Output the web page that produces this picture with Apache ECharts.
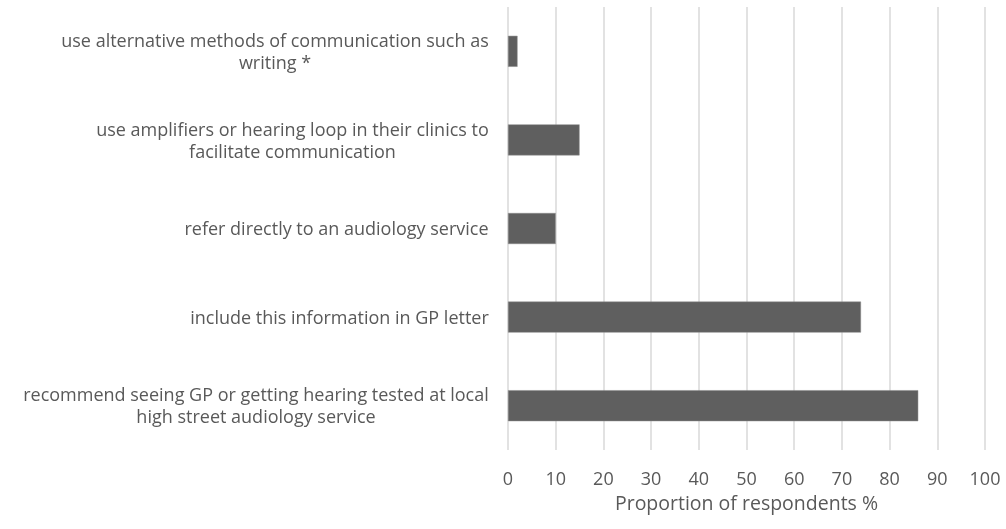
<!DOCTYPE html>
<html>
<head>
<meta charset="utf-8">
<script src="https://cdn.jsdelivr.net/npm/echarts@6/dist/echarts.min.js"></script>
<style>
  html, body { margin: 0; padding: 0; background: #fff; }
  #divChart { width: 1006px; height: 529px; }
</style>
</head>
<body>
<div id="divChart"></div>
<script>
// categories, top to bottom (each line of a label is one string)
var categories = [
    ['use alternative methods of communication such as', 'writing *'],
    ['use amplifiers or hearing loop in their clinics to', 'facilitate communication'],
    ['refer directly to an audiology service'],
    ['include this information in GP letter'],
    ['recommend seeing GP or getting hearing tested at local', 'high street audiology service']
];
var values = [2, 15, 10, 74, 86];
var xTicks = [0, 10, 20, 30, 40, 50, 60, 70, 80, 90, 100];
var xName = 'Proportion of respondents %';

var fontName = 'Open Sans';
var labelSize = 18;

// width of the longest line, so wrapped lines are centred in their block
var ctx = document.createElement('canvas').getContext('2d');
ctx.font = labelSize + 'px "' + fontName + '"';
var rich = {};
categories.forEach(function (lines, i) {
    var w = 0;
    lines.forEach(function (l) {
        w = Math.max(w, ctx.measureText(l).width);
    });
    rich['s' + i] = {
        width: Math.ceil(w),
        align: 'center',
        fontFamily: fontName,
        fontSize: labelSize,
        lineHeight: 22,
        color: '#595959'
    };
});

var myChart = echarts.init(document.getElementById('divChart'));

var option = {
    animation: false,
    grid: {
        left: 508,
        right: 21,
        top: 7,
        bottom: 79
    },
    xAxis: {
        type: 'value',
        min: xTicks[0],
        max: xTicks[xTicks.length - 1],
        interval: 10,
        name: xName,
        nameLocation: 'middle',
        nameGap: 44,
        nameTextStyle: {
            fontFamily: fontName,
            fontSize: 19.5,
            color: '#595959'
        },
        axisLine: { show: false },
        axisTick: { show: false },
        axisLabel: {
            margin: 21,
            fontFamily: fontName,
            fontSize: 18,
            color: '#595959'
        },
        splitLine: {
            lineStyle: { color: '#d9d9d9', width: 1.5 }
        }
    },
    yAxis: {
        type: 'category',
        inverse: true,
        data: categories.map(function (c) { return c.join('\n'); }),
        axisLine: { show: false },
        axisTick: { show: false },
        axisLabel: {
            margin: 19,
            padding: [3, 0, 0, 0],
            formatter: function (value, idx) {
                return categories[idx].map(function (l) {
                    return '{s' + idx + '|' + l + '}';
                }).join('\n');
            },
            rich: rich
        }
    },
    series: [
        {
            type: 'bar',
            data: values,
            barWidth: 31,
            itemStyle: {
                color: '#5f5f5f',
                borderColor: '#8a8a8a',
                borderWidth: 0.5
            }
        }
    ]
};

myChart.setOption(option);
</script>
</body>
</html>
